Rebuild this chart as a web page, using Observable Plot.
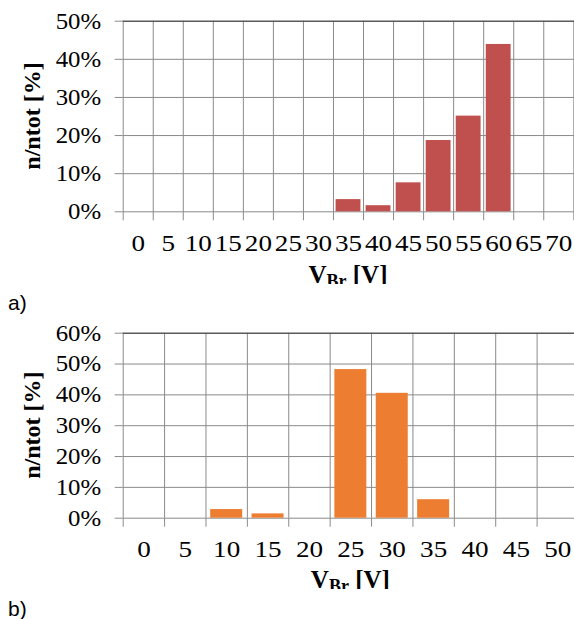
<!DOCTYPE html>
<html><head><meta charset="utf-8">
<script src="https://cdn.jsdelivr.net/npm/d3@7"></script>
<script src="https://cdn.jsdelivr.net/npm/@observablehq/plot@0.6"></script>
<style>
html,body{margin:0;padding:0;background:#fff;overflow:hidden;}
#root{position:relative;width:574px;height:619px;overflow:hidden;background:#fff;}
.panel{position:absolute;left:0;z-index:1;}
.panel svg text{font-family:"Liberation Serif","Times New Roman",Times,serif !important;}
.tag{position:absolute;left:8px;z-index:2;font-family:"Liberation Sans",Arial,sans-serif;font-size:21px;line-height:21px;color:#000;}
</style></head><body>
<div id="root">
  <div id="chartA" class="panel" style="top:0px"></div>
  <div id="chartB" class="panel" style="top:300px"></div>
  <div class="tag" style="top:292px">a)</div>
  <div class="tag" style="top:598px">b)</div>
</div>
<script>
// ---- data ----
const voltagesA = [0, 5, 10, 15, 20, 25, 30, 35, 40, 45, 50, 55, 60, 65, 70];
const shareA    = [0, 0, 0, 0, 0, 0, 0, 3.2, 1.6, 7.6, 18.7, 25.1, 43.9, 0, 0];
const yTicksA   = [0, 10, 20, 30, 40, 50];

const voltagesB = [0, 5, 10, 15, 20, 25, 30, 35, 40, 45, 50];
const shareB    = [0, 0, 2.8, 1.4, 0, 48.2, 40.5, 6.0, 0, 0, 0];
const yTicksB   = [0, 10, 20, 30, 40, 50, 60];

const xTitleMain = "V";
const xTitleSub = "Br";
const xTitleRest = " [V]";
const yTitle = "n/ntot [%]";

const colorA = "#C0504D";
const colorB = "#ED7D31";
const GRID = "#8a8a8a";
const SERIF = "'Liberation Serif','Times New Roman',Times,serif";

function stretch(sel, sx) {
  sel.each(function() {
    const x = +this.getAttribute("x") || 0;
    const y = +this.getAttribute("y") || 0;
    const tr = this.getAttribute("transform") || "";
    this.setAttribute("transform", `${tr} translate(${x},${y}) scale(${sx},1) translate(${-x},${-y})`);
  });
}

function histogram({voltages, shares, yTicks, color, height, marginTop, marginBottom, xRange, inset, titleBaseline}) {
  const half = 2.5;
  const data = voltages.map((v, i) => ({v, share: shares[i]}));
  const bounds = voltages.map(v => v - half).concat([voltages[voltages.length - 1] + half]);
  const yMax = yTicks[yTicks.length - 1];
  const svg = Plot.plot({
    width: 574,
    height,
    marginLeft: xRange[0],
    marginRight: 0,
    marginTop,
    marginBottom,
    style: {fontFamily: SERIF, background: "white", color: "#000"},
    x: {type: "linear", domain: [bounds[0], bounds[bounds.length - 1]], range: xRange, label: null},
    y: {domain: [0, yMax], label: null},
    marks: [
      Plot.ruleX(bounds, {stroke: GRID, strokeWidth: 1}),
      Plot.ruleY(yTicks.slice(0, -1), {stroke: GRID, strokeWidth: 1}),
      Plot.rectY(data, {filter: d => d.share > 0, x1: d => d.v - half, x2: d => d.v + half, y: "share", fill: color, insetLeft: inset, insetRight: inset}),
      Plot.ruleY([yMax], {stroke: "#5a5a5a", strokeWidth: 1.5}),
      Plot.axisX({ticks: bounds, tickSize: 9, tickFormat: () => "", stroke: GRID, label: null}),
      Plot.axisX({ticks: voltages, tickSize: 0, tickPadding: 22, tickFormat: d => String(d), fontFamily: SERIF, fontSize: 24, fill: "#000", label: null}),
      Plot.axisY({ticks: yTicks, tickSize: 8, tickPadding: 14, tickFormat: d => d + "%", fontFamily: SERIF, fontSize: 23, stroke: GRID, fill: "#000", label: null})
    ]
  });
  const s = d3.select(svg);
  s.style("font-family", SERIF);
  const xl = s.selectAll("g[aria-label='x-axis tick label']").attr("font-size", 24).style("font-size", "24px");
  const yl = s.selectAll("g[aria-label='y-axis tick label']").attr("font-size", 23).style("font-size", "23px");
  stretch(xl.selectAll("text"), 1.13);
  stretch(yl.selectAll("text"), 1.08);
  const cx = (xRange[0] + xRange[1]) / 2;
  const t = s.append("text")
    .attr("x", cx).attr("y", titleBaseline)
    .attr("text-anchor", "middle")
    .attr("font-weight", "bold").attr("font-size", 25).attr("fill", "#000");
  t.append("tspan").text(xTitleMain);
  t.append("tspan").attr("font-size", 18).attr("dy", 4).text(xTitleSub);
  t.append("tspan").attr("dy", -4).text(xTitleRest);
  const cy = (marginTop + (height - marginBottom)) / 2;
  s.append("text")
    .attr("transform", `translate(40,${cy}) rotate(-90)`)
    .attr("text-anchor", "middle")
    .attr("font-weight", "bold").attr("font-size", 24).attr("fill", "#000")
    .text(yTitle);
  return svg;
}

document.getElementById("chartA").appendChild(histogram({
  voltages: voltagesA, shares: shareA, yTicks: yTicksA, color: colorA,
  height: 284, marginTop: 20.7, marginBottom: 72.7, xRange: [122.7, 573.3], inset: 2.6, titleBaseline: 282.5
}));
document.getElementById("chartB").appendChild(histogram({
  voltages: voltagesB, shares: shareB, yTicks: yTicksB, color: colorB,
  height: 289, marginTop: 32.7, marginBottom: 71.3, xRange: [122.7, 578], inset: 4.7, titleBaseline: 288
}));
</script>
</body></html>
